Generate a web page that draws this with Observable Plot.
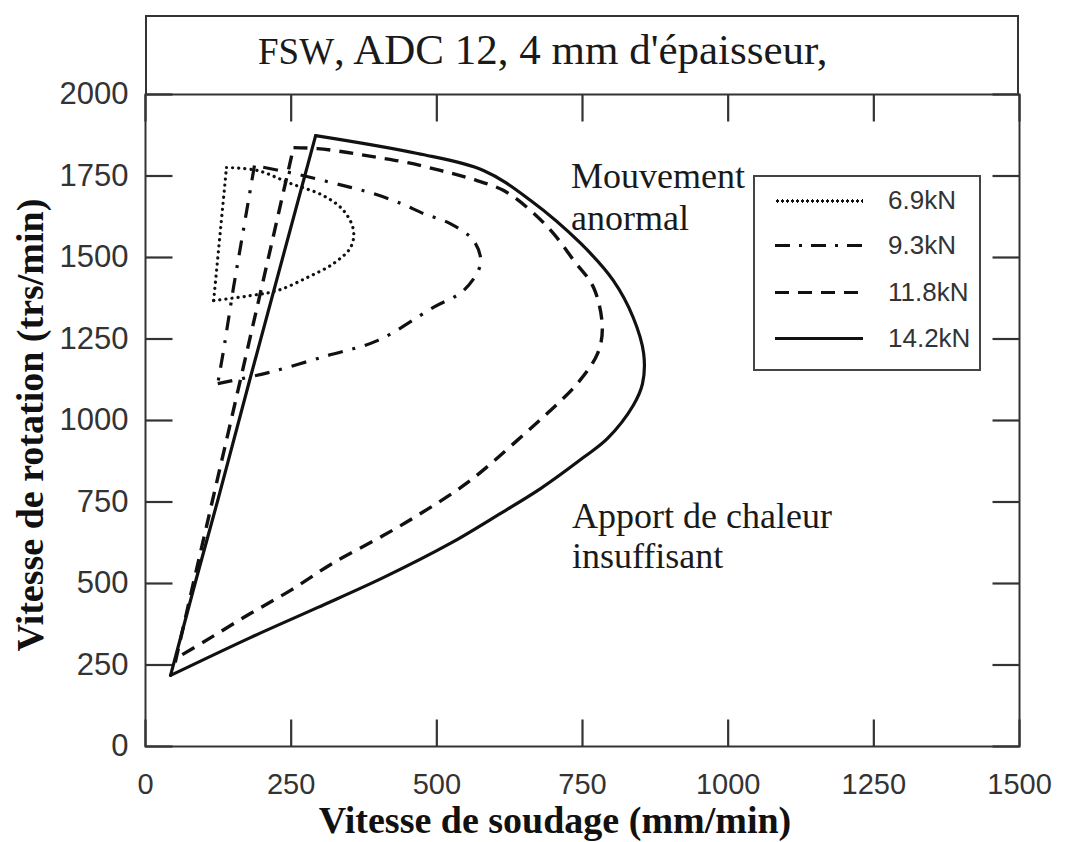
<!DOCTYPE html>
<html>
<head>
<meta charset="utf-8">
<script src="https://cdn.jsdelivr.net/npm/d3@7"></script>
<script src="https://cdn.jsdelivr.net/npm/@observablehq/plot@0.6"></script>
<style>
  html, body { margin: 0; padding: 0; background: #fff; }
  #wrap { position: relative; width: 1077px; height: 842px; overflow: hidden; background: #fff; }
  #wrap > svg { position: absolute; left: 0; top: 0; }
  .serif { position: absolute; white-space: nowrap; font-family: "Liberation Serif", "Times New Roman", serif; color: #1a1a1a; }
  #titlebox { position: absolute; left: 145px; top: 15px; width: 874px; height: 79px; box-sizing: border-box;
              border: 2px solid #333; border-bottom: none; }
  #title { left: 111px; top: 9px; font-size: 43px; line-height: 48px; }
  #title .sc { font-size: 37px; }
  .note1 { left: 571px; top: 155px; font-size: 36px; line-height: 42px; }
  .note2 { left: 572px; top: 496px; font-size: 36px; line-height: 40px; }
  .axt { font-weight: bold; font-size: 38px; line-height: 44px; color: #111; }
  #xtitle { left: 555px; top: 798px; transform: translateX(-50%); }
  #ytitle { left: 30px; top: 425px; transform: translate(-50%, -50%) rotate(-90deg); }
  #legend { position: absolute; left: 753px; top: 175px; width: 228px; height: 196px; box-sizing: border-box;
            border: 2px solid #444; background: #fff; }
  .lgsample { position: absolute; left: 20px; width: 88px; }
  .lglabel { position: absolute; left: 133px; font-family: "Liberation Sans", Arial, Helvetica, sans-serif;
             font-size: 26px; line-height: 30px; color: #333; white-space: nowrap; }
</style>
</head>
<body>
<div id="wrap">
  <div id="titlebox"><div id="title" class="serif"><span class="sc">FSW</span>, ADC 12, 4 mm d'épaisseur,</div></div>
  <div class="serif note1">Mouvement<br>anormal</div>
  <div class="serif note2">Apport de chaleur<br>insuffisant</div>
  <div id="xtitle" class="serif axt">Vitesse de soudage (mm/min)</div>
  <div id="ytitle" class="serif axt">Vitesse de rotation (trs/min)</div>
  <div id="legend"></div>
</div>
<script>
// ---- data ----
const forces = ["6.9kN", "9.3kN", "11.8kN", "14.2kN"];

// 6.9 kN (dotted): straight left edge (first 2 points), then the loop
const v69 = [117, 139, 192, 249, 305, 340, 357, 352, 323, 278, 227, 180, 117];
const r69 = [1368, 1776, 1767, 1727, 1690, 1644, 1583, 1531, 1482, 1439, 1399, 1383, 1368];

// 9.3 kN (dash-dot): straight left edge (first 5 points), then the loop
const v93 = [187, 167, 151, 134, 124, 211, 312, 398, 494, 546, 575, 563, 523, 477, 438, 391, 352, 305, 254, 187];
const r93 = [1782, 1574, 1408, 1215, 1113, 1147, 1199, 1245, 1347, 1399, 1482, 1552, 1604, 1635, 1666, 1696, 1715, 1736, 1758, 1782];

// 11.8 kN (dashed): straight rising edge (first 7 points), then the envelope
const v118 = [51, 82, 115, 152, 202, 240, 254, 295, 347, 398, 450, 506, 558, 614, 661, 700, 735, 769, 784, 776, 741, 695, 638, 553, 467, 408, 323, 249, 180, 112, 55];
const r118 = [258, 500, 755, 1040, 1429, 1727, 1837, 1834, 1822, 1807, 1791, 1767, 1742, 1706, 1644, 1574, 1491, 1408, 1285, 1206, 1113, 1031, 939, 810, 709, 647, 564, 479, 408, 334, 273];

// 14.2 kN (solid): straight rising edge (first 5 points), then the envelope
const v142 = [43, 85, 124, 180, 292, 467, 580, 661, 747, 803, 837, 855, 853, 837, 793, 752, 678, 601, 523, 408, 295, 180, 43];
const r142 = [218, 500, 755, 1132, 1874, 1819, 1767, 1675, 1543, 1429, 1316, 1205, 1113, 1046, 945, 887, 791, 706, 623, 518, 426, 334, 218];

// number of points forming the straight edge of each contour
const edgeCount = {"6.9kN": 2, "9.3kN": 5, "11.8kN": 7, "14.2kN": 5};

const xTicks = [0, 250, 500, 750, 1000, 1250, 1500];
const yTicks = [0, 250, 500, 750, 1000, 1250, 1500, 1750, 2000];
const xDomain = [0, 1500];
const yDomain = [0, 2000];

// ---- build tables ----
const toRows = (vs, rs, name) => vs.map((v, i) => ({force: name, v, r: rs[i]}));
const rows = {
  "6.9kN": toRows(v69, r69, "6.9kN"),
  "9.3kN": toRows(v93, r93, "9.3kN"),
  "11.8kN": toRows(v118, r118, "11.8kN"),
  "14.2kN": toRows(v142, r142, "14.2kN")
};
const styles = {
  "6.9kN":  {strokeWidth: 3.2, strokeDasharray: "0.1,6", strokeLinecap: "round"},
  "9.3kN":  {strokeWidth: 3.2, strokeDasharray: "15,10,3,10", strokeLinecap: "butt"},
  "11.8kN": {strokeWidth: 3.4, strokeDasharray: "14,9", strokeLinecap: "butt"},
  "14.2kN": {strokeWidth: 3.2, strokeLinecap: "round"}
};

const ink = "#111";
const axisInk = "#333";
const W = 1077, H = 842, mL = 145, mR = 58, mT = 94, mB = 96;
const tickLen = 27;
const frameW = W - mL - mR, frameH = H - mT - mB;
// tick length expressed in data units of each scale (so ticks go through the scales)
const xTickLen = tickLen * (xDomain[1] - xDomain[0]) / frameW;
const yTickLen = tickLen * (yDomain[1] - yDomain[0]) / frameH;

const lineMarks = forces.flatMap(f => {
  const n = edgeCount[f];
  const data = rows[f];
  return [
    Plot.line(data.slice(0, n), {x: "v", y: "r", stroke: ink, curve: "linear", strokeLinejoin: "round", ...styles[f]}),
    Plot.line(data.slice(n - 1), {x: "v", y: "r", stroke: ink, curve: "catmull-rom", strokeLinejoin: "round", ...styles[f]})
  ];
});

const tickStyle = {stroke: axisInk, strokeWidth: 2.2, strokeLinecap: "butt"};

const chart = Plot.plot({
  width: W, height: H,
  marginLeft: mL, marginRight: mR, marginTop: mT, marginBottom: mB,
  x: {domain: xDomain},
  y: {domain: yDomain},
  style: {fontFamily: "'Liberation Sans', Arial, Helvetica, sans-serif", background: "transparent", color: axisInk, overflow: "visible"},
  marks: [
    // inward tick marks on all four sides (drawn as links -> paths)
    Plot.link(xTicks, {x1: d => d, x2: d => d, y1: yDomain[0], y2: yDomain[0] + yTickLen, ...tickStyle}),
    Plot.link(xTicks, {x1: d => d, x2: d => d, y1: yDomain[1], y2: yDomain[1] - yTickLen, ...tickStyle}),
    Plot.link(yTicks, {y1: d => d, y2: d => d, x1: xDomain[0], x2: xDomain[0] + xTickLen, ...tickStyle}),
    Plot.link(yTicks, {y1: d => d, y2: d => d, x1: xDomain[1], x2: xDomain[1] - xTickLen, ...tickStyle}),
    ...lineMarks,
    // tick labels
    Plot.axisX(xTicks, {anchor: "bottom", tickSize: 0, tickPadding: 27, fontSize: 29, fill: axisInk, tickFormat: d => String(d), label: null}),
    Plot.axisY(yTicks, {anchor: "left", tickSize: 0, tickPadding: 17, fontSize: 31, fill: axisInk, tickFormat: d => String(d), label: null}),
    Plot.frame({stroke: axisInk, strokeWidth: 2})
  ]
});
const wrap = document.getElementById("wrap");
wrap.insertBefore(chart, wrap.firstChild);

// ---- legend (HTML, line patterns drawn with CSS) ----
const legendY = [25, 70, 117, 163];
const legendCss = {
  "6.9kN":  "height:4px;background:radial-gradient(circle, #111 1.5px, transparent 1.8px) 0 0/5px 4px repeat-x;",
  "9.3kN":  "height:3px;background:repeating-linear-gradient(to right, #111 0 15px, transparent 15px 24px, #111 24px 27px, transparent 27px 36px);",
  "11.8kN": "height:3px;background:repeating-linear-gradient(to right, #111 0 14px, transparent 14px 23px);",
  "14.2kN": "height:3px;background:#111;"
};
const legend = document.getElementById("legend");
forces.forEach((f, i) => {
  const s = document.createElement("div");
  s.className = "lgsample";
  s.style.cssText = legendCss[f];
  s.style.top = (legendY[i] - 2 - 1.5) + "px";
  legend.appendChild(s);
  const t = document.createElement("div");
  t.className = "lglabel";
  t.style.top = (legendY[i] - 2 - 15) + "px";
  t.textContent = f;
  legend.appendChild(t);
});
// force a layout pass
chart.getBoundingClientRect();
</script>
</body>
</html>
